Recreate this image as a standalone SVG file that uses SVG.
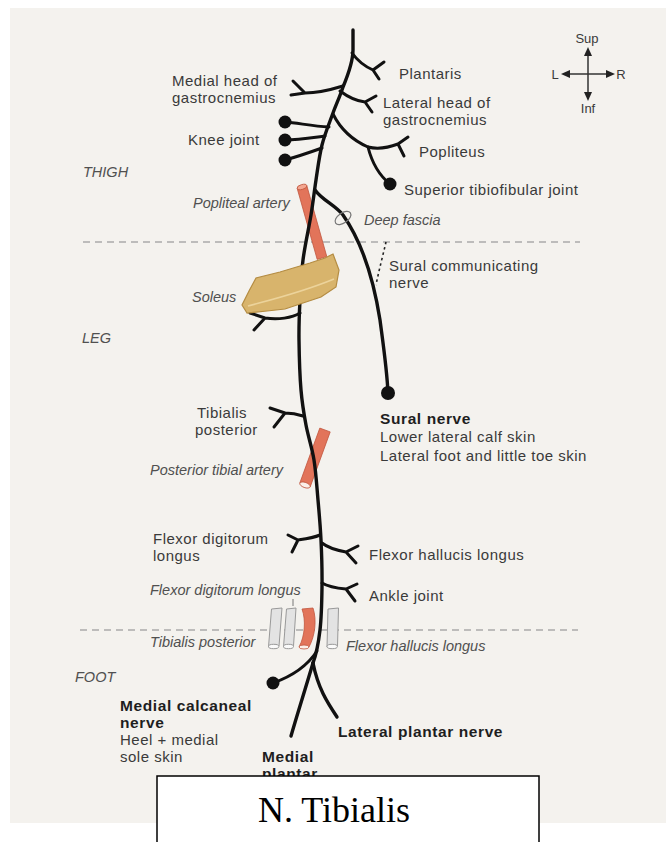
<svg xmlns="http://www.w3.org/2000/svg" width="672" height="842" viewBox="0 0 672 842">
  <style>
    .lbl { font-family: "Liberation Sans", Arial, sans-serif; font-size: 15px; letter-spacing: 0.5px; fill: #3a3a3a; }
    .it { font-family: "Liberation Sans", Arial, sans-serif; font-size: 14.5px; font-style: italic; fill: #505050; }
    .bd { font-family: "Liberation Sans", Arial, sans-serif; font-size: 15.5px; letter-spacing: 0.6px; font-weight: bold; fill: #1e1e1e; }
    .cmp { font-family: "Liberation Sans", Arial, sans-serif; font-size: 13px; fill: #3a3a3a; }
    .nerve { fill: none; stroke: #111; stroke-width: 3.4; stroke-linecap: round; stroke-linejoin: round; }
    .br { fill: none; stroke: #111; stroke-width: 3; stroke-linecap: round; stroke-linejoin: round; }
    .dot { fill: #111; }
    .zone { stroke: #aaa; stroke-width: 1.3; stroke-dasharray: 7 5; fill: none; }
    .artery { fill: #e2745a; stroke: #c0563e; stroke-width: 0.8; }
    .tendon { fill: #e3e3e3; stroke: #999; stroke-width: 1; }
  </style>

  <!-- scanned page -->
  <rect x="0" y="0" width="672" height="842" fill="#ffffff"/>
  <rect x="10" y="8" width="656" height="815" fill="#f4f2ee"/>

  <!-- region boundaries -->
  <g id="regions">
    <line class="zone" x1="83" y1="242" x2="580" y2="242"/>
    <line class="zone" x1="80" y1="630" x2="578" y2="630"/>
    <text class="it" x="83" y="177">THIGH</text>
    <text class="it" x="82" y="343">LEG</text>
    <text class="it" x="75" y="682">FOOT</text>
  </g>

  <!-- orientation compass -->
  <g id="compass">
    <line x1="588" y1="52" x2="588" y2="96" stroke="#333" stroke-width="1.5"/>
    <line x1="566" y1="74" x2="611" y2="74" stroke="#333" stroke-width="1.5"/>
    <polygon points="588,47 584,56 592,56" fill="#222"/>
    <polygon points="588,101 584,92 592,92" fill="#222"/>
    <polygon points="561,74 570,70 570,78" fill="#222"/>
    <polygon points="615,74 606,70 606,78" fill="#222"/>
    <text class="cmp" x="587" y="43" text-anchor="middle">Sup</text>
    <text class="cmp" x="588" y="113" text-anchor="middle">Inf</text>
    <text class="cmp" x="555" y="79" text-anchor="middle">L</text>
    <text class="cmp" x="621" y="79" text-anchor="middle">R</text>
  </g>

  <!-- vessels and tendons behind the nerve -->
  <g id="popliteal-artery">
    <polygon class="artery" points="297.2,188.4 306.8,185.6 326.8,256.6 317.2,259.4"/>
    <ellipse cx="302" cy="187" rx="5" ry="2.4" transform="rotate(-16 302 187)" fill="#f3a690" stroke="#c0563e" stroke-width="0.8"/>
    <text class="it" x="193" y="208">Popliteal artery</text>
  </g>

  <g id="posterior-tibial-artery">
    <polygon class="artery" points="330.2,431.9 319.8,428.1 299.8,483.1 310.2,486.9"/>
    <ellipse cx="305" cy="485" rx="5.5" ry="2.6" transform="rotate(20 305 485)" fill="#fbefe8" stroke="#c0563e" stroke-width="0.8"/>
    <text class="it" x="150" y="475">Posterior tibial artery</text>
  </g>

  <g id="ankle-tendons">
    <path class="tendon" d="M271.5,609 L282,608 L279,646 L268.5,647 Z"/>
    <ellipse cx="273.7" cy="646.5" rx="5.2" ry="2.2" fill="#fafafa" stroke="#999" stroke-width="1"/>
    <path class="tendon" d="M286.5,609 L296,608 L293.5,646 L283.5,647 Z"/>
    <ellipse cx="288.5" cy="646.5" rx="5" ry="2.2" fill="#fafafa" stroke="#999" stroke-width="1"/>
    <path class="artery" d="M302,609 L313,608 C317,620 315,636 309,647 L299,647 C305,636 306,620 302,609 Z"/>
    <ellipse cx="304" cy="647" rx="5" ry="2" fill="#fbefe8" stroke="#c0563e" stroke-width="0.8"/>
    <path class="tendon" d="M328,609 L338.5,608 L337.5,646 L327,647 Z"/>
    <ellipse cx="332.2" cy="646.5" rx="5.2" ry="2.2" fill="#fafafa" stroke="#999" stroke-width="1"/>
    <line x1="293" y1="599" x2="293" y2="606" stroke="#777" stroke-width="1"/>
    <text class="it" x="150" y="595">Flexor digitorum longus</text>
    <text class="it" x="150" y="647">Tibialis posterior</text>
    <text class="it" x="346" y="651">Flexor hallucis longus</text>
  </g>

  <!-- nerve trunk and branches -->
  <g id="connectors">
    <path class="nerve" d="M353,30 L353,50 C353,62 348,75 343,87 C339.7,97.2 336.5,103.3 333,113 C329.5,122.7 324.8,133.8 322,145 C319.2,156.2 317.8,168.3 316,180 C314.2,191.7 313.2,201.7 311,215 C308.8,228.3 304.8,245.8 303,260 C301.2,274.2 300.7,286.7 300,300 C299.3,313.3 298.8,325 299,340 C299.2,355 299.8,375.8 301,390 C302.2,404.2 303.8,413.3 306,425 C308.2,436.7 312,447.5 314,460 C316,472.5 316.8,486.7 318,500 C319.2,513.3 320.3,525.5 321,540 C321.7,554.5 322.2,572 322,587 C321.8,602 321.5,617.3 320,630 C318.5,642.7 316,655 313,663"/>
    <!-- foot -->
    <path class="nerve" d="M313,663 C305,690 297,715 291,736"/>
    <path class="nerve" d="M313,663 C318,688 327,702 337,717"/>
    <path class="br" d="M317,651 C306,668 290,677 273,683"/>
    <!-- sural nerve -->
    <path class="nerve" d="M315,190 C322,200 335,205 343,215 C362,242 374,282 380,320 C384,350 387,370 388,393"/>
    <path d="M386,242 C383,255 379,270 376,285" fill="none" stroke="#222" stroke-width="1.6" stroke-dasharray="2.5 3"/>
    <!-- thigh branches -->
    <path class="br" d="M352,53 C357,60 364,66 373,70 M373,70 L384,62 M373,70 L379,79"/>
    <path class="br" d="M343,86 C330,90 318,93 305,93 M305,93 L293,81 M305,93 L291,95"/>
    <path class="br" d="M340,91 C348,97 356,101 365,102 M365,102 L376,96 M365,102 L372,112"/>
    <path class="br" d="M329,127 C312,126 298,123 285,122"/>
    <path class="br" d="M325,136 C310,138 298,140 285,140"/>
    <path class="br" d="M322,148 C308,153 296,157 285,160"/>
    <path class="br" d="M333,114 C340,128 352,140 368,147 C380,150 390,147 398,144 M398,144 L408,137 M398,144 L404,156"/>
    <path class="br" d="M368,147 C372,163 380,176 390,184"/>
    <!-- leg branches -->
    <path class="br" d="M300,313 C292,318 278,320 265,318 L250,313 M265,318 L254,330"/>
    <path class="br" d="M303,416 C297,414 291,413 285,413 M285,413 L270,408 M285,413 L274,427"/>
    <path class="br" d="M320,535 C313,538 305,539 298,540 M298,540 L288,535 M298,540 L292,552"/>
    <path class="br" d="M322,543 C327,547 335,550 346,552 M346,552 L358,546 M346,552 L356,563"/>
    <path class="br" d="M322,583 C327,586 335,588 346,589 M346,589 L357,584 M346,589 L355,601"/>
  </g>

  <!-- soleus muscle over the trunk -->
  <g id="soleus">
    <path d="M247,313 L242,305 L249,291 L256,278 L280,272 L310,263 L325,258 L333,254 L339,270 L336,287 L321,297 L303,303 L285,309 L267,311 Z" fill="#d8b46c" stroke="#b48c42" stroke-width="1.2"/>
    <path d="M248,306 C270,300 300,293 334,279" fill="none" stroke="#ecd39b" stroke-width="1.6"/>
    <text class="it" x="192" y="302">Soleus</text>
  </g>

  <g id="deep-fascia">
    <ellipse cx="343" cy="218" rx="9" ry="5" transform="rotate(-35 343 218)" fill="none" stroke="#777" stroke-width="1.2"/>
    <text class="it" x="364" y="225">Deep fascia</text>
  </g>

  <!-- terminal dots -->
  <g id="knee-joint">
    <circle class="dot" cx="285" cy="122" r="6.5"/>
    <circle class="dot" cx="285" cy="140" r="6.5"/>
    <circle class="dot" cx="285" cy="160" r="6.5"/>
    <text class="lbl" x="188" y="145">Knee joint</text>
  </g>
  <g id="superior-tibiofibular">
    <circle class="dot" cx="390" cy="184" r="6.5"/>
    <text class="lbl" x="404" y="195">Superior tibiofibular joint</text>
  </g>
  <g id="sural-nerve">
    <circle class="dot" cx="388" cy="393" r="7"/>
    <text class="bd" x="380" y="424">Sural nerve</text>
    <text class="lbl" x="380" y="442">Lower lateral calf skin</text>
    <text class="lbl" x="380" y="461">Lateral foot and little toe skin</text>
  </g>
  <g id="sural-communicating">
    <text class="lbl" x="389" y="271">Sural communicating</text>
    <text class="lbl" x="389" y="288">nerve</text>
  </g>
  <g id="medial-calcaneal">
    <circle class="dot" cx="273" cy="683" r="6.5"/>
    <text class="bd" x="120" y="711">Medial calcaneal</text>
    <text class="bd" x="120" y="728">nerve</text>
    <text class="lbl" x="120" y="745">Heel + medial</text>
    <text class="lbl" x="120" y="762">sole skin</text>
  </g>

  <!-- muscle labels -->
  <g id="medial-gastrocnemius">
    <text class="lbl" x="172" y="86">Medial head of</text>
    <text class="lbl" x="172" y="103">gastrocnemius</text>
  </g>
  <g id="plantaris"><text class="lbl" x="399" y="79">Plantaris</text></g>
  <g id="lateral-gastrocnemius">
    <text class="lbl" x="383" y="108">Lateral head of</text>
    <text class="lbl" x="383" y="125">gastrocnemius</text>
  </g>
  <g id="popliteus"><text class="lbl" x="419" y="157">Popliteus</text></g>
  <g id="tibialis-posterior">
    <text class="lbl" x="197" y="418">Tibialis</text>
    <text class="lbl" x="195" y="435">posterior</text>
  </g>
  <g id="flexor-digitorum">
    <text class="lbl" x="153" y="544">Flexor digitorum</text>
    <text class="lbl" x="153" y="561">longus</text>
  </g>
  <g id="flexor-hallucis"><text class="lbl" x="369" y="560">Flexor hallucis longus</text></g>
  <g id="ankle-joint"><text class="lbl" x="369" y="601">Ankle joint</text></g>
  <g id="lateral-plantar"><text class="bd" x="338" y="737">Lateral plantar nerve</text></g>
  <g id="medial-plantar">
    <text class="bd" x="262" y="762">Medial</text>
    <text class="bd" x="262" y="779">plantar</text>
  </g>

  <!-- caption box -->
  <g id="caption">
    <rect x="157" y="776" width="382" height="80" fill="#ffffff" stroke="#000" stroke-width="1.5"/>
    <text x="258" y="822" font-family="'Liberation Serif', 'Times New Roman', serif" font-size="36" fill="#000">N. Tibialis</text>
  </g>
</svg>
